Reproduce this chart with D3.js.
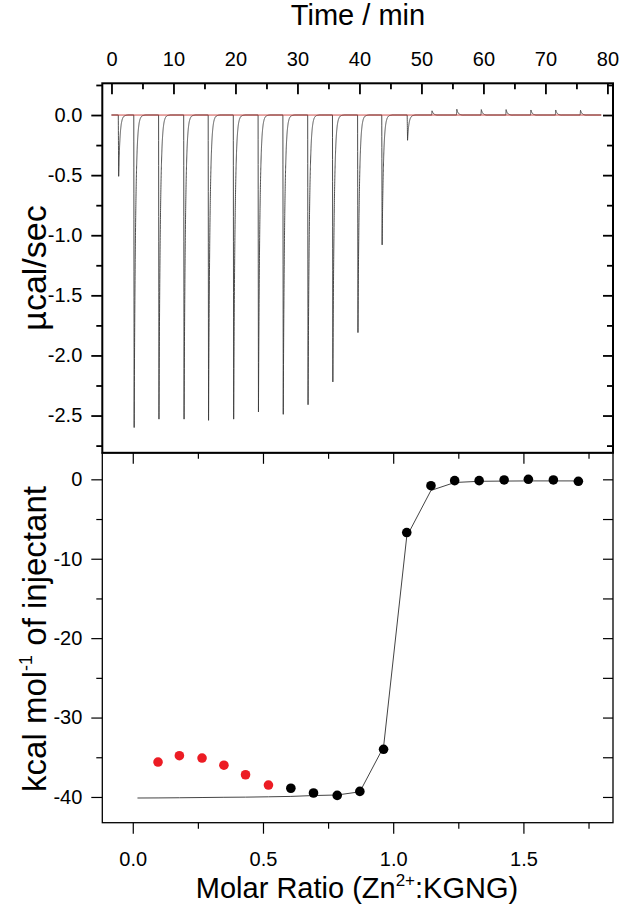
<!DOCTYPE html>
<html>
<head>
<meta charset="utf-8">
<script src="https://cdn.jsdelivr.net/npm/d3@7"></script>
<style>
  body { margin: 0; background: #fff; }
  svg { display: block; }
  text { font-family: "Liberation Sans", Arial, sans-serif; fill: #000; }
</style>
</head>
<body>
<div id="chart"></div>
<script>
// --- raw thermogram: injection times (min) and peak heights (µcal/sec)
const injTime = [1.1, 3.6, 7.6, 11.65, 15.6, 19.65, 23.65, 27.65, 31.65, 35.65,
                 39.7, 43.6, 47.7, 51.65, 55.65, 59.6, 63.6, 67.6, 71.6, 75.6];
const injPeak = [-0.51, -2.6, -2.53, -2.53, -2.54, -2.53, -2.47, -2.49, -2.41, -2.22,
                 -1.81, -1.08, -0.21, 0.035, 0.048, 0.045, 0.045, 0.042, 0.042, 0.04];

// --- integrated heats (kcal/mol of injectant) vs molar ratio
const ratioRed = [0.097, 0.179, 0.266, 0.350, 0.433, 0.521];
const heatRed  = [-35.6, -34.8, -35.1, -36.0, -37.2, -38.5];
const ratioBlack = [0.607, 0.694, 0.785, 0.872, 0.963, 1.052, 1.145, 1.236, 1.330, 1.426, 1.519, 1.615, 1.711];
const heatBlack  = [-38.9, -39.5, -39.8, -39.3, -34.0, -6.7, -0.8, -0.17, -0.17, -0.08, 0.0, -0.08, -0.25];

// --- fitted curve
const fitRatio = [0.018, 0.097, 0.179, 0.266, 0.350, 0.433, 0.521, 0.607, 0.694, 0.785,
                  0.872, 0.963, 1.052, 1.145, 1.236, 1.330, 1.426, 1.519, 1.615, 1.711];
const fitHeat  = [-40.13, -40.12, -40.1, -40.07, -40.04, -40.02, -39.98, -39.93, -39.82, -39.75,
                  -39.35, -33.7, -7.2, -1.4, -0.4, -0.25, -0.22, -0.2, -0.2, -0.2];

// --- tick labels
const timeTicks = [0, 10, 20, 30, 40, 50, 60, 70, 80];
const timeMinor = [5, 15, 25, 35, 45, 55, 65, 75];
const powerTicks = [0, -0.5, -1.0, -1.5, -2.0, -2.5];
const powerMinor = [0.25, -0.25, -0.75, -1.25, -1.75, -2.25, -2.75];
const heatTicks = [0, -10, -20, -30, -40];
const heatMinor = [-5, -15, -25, -35];
const ratioTicks = [0, 0.5, 1.0, 1.5];
const ratioMinor = [0.25, 0.75, 1.25, 1.75];

const width = 620, height = 918;
const edgeL = 102.3, edgeR = 613, edgeT = 83.3, edgeM = 452.8, edgeB = 822.7;

const svg = d3.select('#chart').append('svg')
  .attr('width', width)
  .attr('height', height);

// scales
const tX = d3.scaleLinear().domain([-1.48, 80.9]).range([edgeL, edgeR]);
const tY = d3.scaleLinear().domain([0.264, -2.81]).range([edgeT, edgeM]);
const rX = d3.scaleLinear().domain([-0.117, 1.844]).range([edgeL, edgeR]);
const rY = d3.scaleLinear().domain([3.34, -43.24]).range([edgeM, edgeB]);

// draw one set of ticks (no domain line)
function drawTicks(axis, pos, vals, size, fmt, pad, sw) {
  const g = svg.append('g').attr('transform', pos);
  g.call(axis.tickValues(vals).tickSize(size).tickPadding(pad || 0)
    .tickFormat(fmt || (() => '')));
  g.select('.domain').remove();
  g.selectAll('line').attr('stroke', '#000').attr('stroke-width', sw);
  g.selectAll('text').attr('font-size', 20).attr('font-family', '"Liberation Sans", Arial, sans-serif');
  return g;
}

// ---------- top panel: thermogram ----------
const rise = 0.06, tau = 0.22;
function power(t) {
  let v = 0;
  injTime.forEach((t0, i) => {
    const dt = t - t0;
    if (dt < 0) return;
    v += dt < rise ? injPeak[i] * dt / rise : injPeak[i] * Math.exp(-(dt - rise) / tau);
  });
  return v;
}
const tSamples = d3.range(0, 79.0001, 0.005);

svg.append('path')
  .datum(tSamples)
  .attr('fill', 'none')
  .attr('stroke', '#3a3a3a')
  .attr('stroke-width', 0.9)
  .attr('d', d3.line().x(d => tX(d)).y(d => tY(power(d))));

// baseline
svg.append('path')
  .datum([0, 79])
  .attr('fill', 'none')
  .attr('stroke', '#c8302c')
  .attr('stroke-opacity', 0.85)
  .attr('stroke-width', 1)
  .attr('d', d3.line().x(d => tX(d)).y(() => tY(0)));

drawTicks(d3.axisTop(tX), `translate(0,${edgeT})`, timeTicks, -11, d => d, 17, 1.8);
drawTicks(d3.axisTop(tX), `translate(0,${edgeT})`, timeMinor, -6, null, 0, 1.8);
drawTicks(d3.axisLeft(tY), `translate(${edgeL},0)`, powerTicks, 11, d => d.toFixed(1), 9, 1.8);
drawTicks(d3.axisLeft(tY), `translate(${edgeL},0)`, powerMinor, 6, null, 0, 1.8);
drawTicks(d3.axisRight(tY), `translate(${edgeR},0)`, powerTicks, -10, null, 0, 1.8);
drawTicks(d3.axisRight(tY), `translate(${edgeR},0)`, powerMinor, -6, null, 0, 1.8);

// ---------- bottom panel: integrated heats ----------
svg.append('path')
  .datum(d3.zip(fitRatio, fitHeat))
  .attr('fill', 'none')
  .attr('stroke', '#444')
  .attr('stroke-width', 1)
  .attr('d', d3.line().x(d => rX(d[0])).y(d => rY(d[1])));

svg.append('g').selectAll('circle')
  .data(d3.zip(ratioRed, heatRed))
  .join('circle')
  .attr('cx', d => rX(d[0]))
  .attr('cy', d => rY(d[1]))
  .attr('r', 4.8)
  .attr('fill', '#ec1c24');

svg.append('g').selectAll('circle')
  .data(d3.zip(ratioBlack, heatBlack))
  .join('circle')
  .attr('cx', d => rX(d[0]))
  .attr('cy', d => rY(d[1]))
  .attr('r', 4.8)
  .attr('fill', '#000');

drawTicks(d3.axisBottom(rX), `translate(0,${edgeM})`, ratioTicks, 11, null, 0, 1.2);
drawTicks(d3.axisBottom(rX), `translate(0,${edgeM})`, ratioMinor, 6, null, 0, 1.2);
drawTicks(d3.axisBottom(rX), `translate(0,${edgeB})`, ratioTicks, 11, d => d.toFixed(1), 18, 1.2);
drawTicks(d3.axisBottom(rX), `translate(0,${edgeB})`, ratioMinor, 6, null, 0, 1.2);
drawTicks(d3.axisLeft(rY), `translate(${edgeL},0)`, heatTicks, 11, d => String(d), 9, 1.2);
drawTicks(d3.axisLeft(rY), `translate(${edgeL},0)`, heatMinor, 6, null, 0, 1.2);
drawTicks(d3.axisRight(rY), `translate(${edgeR},0)`, heatTicks, -10, null, 0, 1.2);
drawTicks(d3.axisRight(rY), `translate(${edgeR},0)`, heatMinor, -10, null, 0, 1.2);

// frames
svg.append('rect')
  .attr('x', edgeL).attr('y', edgeM)
  .attr('width', edgeR - edgeL).attr('height', edgeB - edgeM)
  .attr('fill', 'none').attr('stroke', '#000').attr('stroke-width', 1.3);
svg.append('rect')
  .attr('x', edgeL).attr('y', edgeT)
  .attr('width', edgeR - edgeL).attr('height', edgeM - edgeT)
  .attr('fill', 'none').attr('stroke', '#000').attr('stroke-width', 2);

// titles
svg.append('text')
  .attr('x', 358).attr('y', 25)
  .attr('text-anchor', 'middle')
  .attr('font-size', 29)
  .text('Time / min');

const xt = svg.append('text')
  .attr('x', 357).attr('y', 898)
  .attr('text-anchor', 'middle')
  .attr('font-size', 29);
xt.append('tspan').text('Molar Ratio (Zn');
xt.append('tspan').attr('font-size', 17).attr('dy', -12).text('2+');
xt.append('tspan').attr('dy', 12).text(':KGNG)');

svg.append('text')
  .attr('transform', 'translate(46,268) rotate(-90)')
  .attr('text-anchor', 'middle')
  .attr('font-size', 34)
  .text('µcal/sec');

const yt = svg.append('text')
  .attr('transform', 'translate(46,639) rotate(-90)')
  .attr('text-anchor', 'middle')
  .attr('font-size', 33);
yt.append('tspan').text('kcal mol');
yt.append('tspan').attr('font-size', 18).attr('dy', -14).text('-1');
yt.append('tspan').attr('dy', 14).text(' of injectant');
</script>
</body>
</html>
